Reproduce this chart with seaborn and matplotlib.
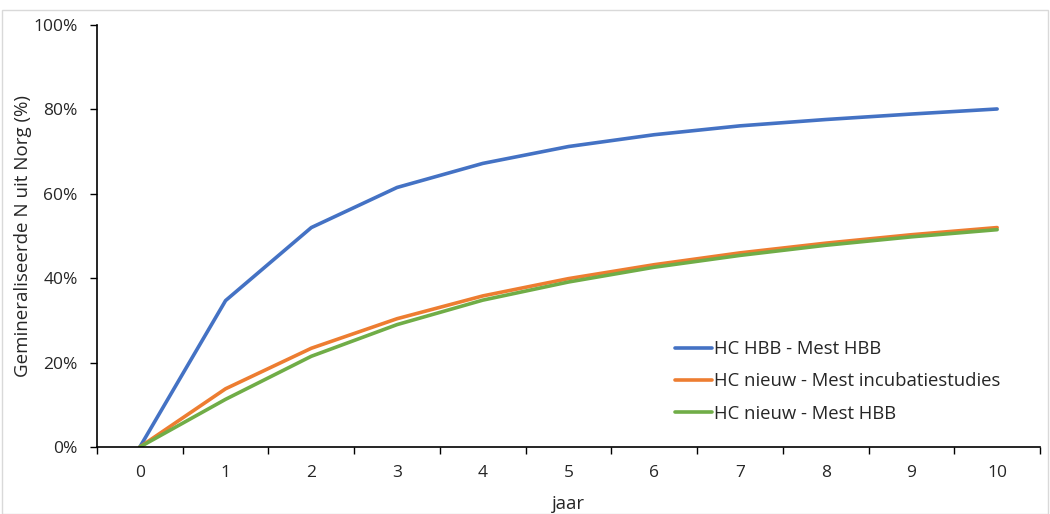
import matplotlib
matplotlib.use("Agg")
import matplotlib.pyplot as plt
from matplotlib.patches import Rectangle
from matplotlib.ticker import FixedLocator, PercentFormatter
import seaborn as sns
import pandas as pd

# Years after application
jaar = [0, 1, 2, 3, 4, 5, 6, 7, 8, 9, 10]

# Cumulative mineralised N from organic N (%)
hc_hbb_mest_hbb = [0.0, 34.7, 52.0, 61.5, 67.2, 71.2, 74.0, 76.1, 77.6, 78.9, 80.1]
hc_nieuw_mest_incubatie = [0.0, 13.8, 23.4, 30.4, 35.8, 39.9, 43.2, 46.0, 48.3, 50.3, 52.0]
hc_nieuw_mest_hbb = [0.0, 11.3, 21.5, 29.0, 34.8, 39.1, 42.6, 45.4, 47.8, 49.8, 51.5]

series_names = [
    "HC HBB - Mest HBB",
    "HC nieuw - Mest incubatiestudies",
    "HC nieuw - Mest HBB",
]
series_values = [hc_hbb_mest_hbb, hc_nieuw_mest_incubatie, hc_nieuw_mest_hbb]
series_colors = ["#4472C4", "#ED7D31", "#70AD47"]

y_ticks = [0, 20, 40, 60, 80, 100]

frames = [
    pd.DataFrame({"jaar": jaar, "waarde": vals, "reeks": name})
    for name, vals in zip(series_names, series_values)
]
df = pd.concat(frames, ignore_index=True)

sns.set_theme(style="white")
plt.rcParams["font.family"] = ["Open Sans", "DejaVu Sans"]

text_color = "#262626"

fig = plt.figure(figsize=(10.5, 5.14), dpi=100)
ax = fig.add_axes([97 / 1050, 1 - 447 / 514, 943 / 1050, 422 / 514])

sns.lineplot(
    data=df, x="jaar", y="waarde", hue="reeks",
    hue_order=series_names, palette=series_colors,
    linewidth=2.6, ax=ax, legend=True,
)

ax.set_xlim(-0.5, 10.5)
ax.set_ylim(0, 100)

# Category axis: tick marks between categories, labels centred on categories
ax.xaxis.set_major_locator(FixedLocator([i - 0.5 for i in range(len(jaar) + 1)]))
ax.set_xticklabels([])
ax.xaxis.set_minor_locator(FixedLocator(jaar))
ax.set_xticklabels([str(j) for j in jaar], minor=True)
ax.tick_params(axis="x", which="major", direction="out", length=5, width=1,
               color="black", bottom=True)
ax.tick_params(axis="x", which="minor", length=0, pad=13, labelsize=12.5,
               labelcolor=text_color)

ax.yaxis.set_major_locator(FixedLocator(y_ticks))
ax.yaxis.set_major_formatter(PercentFormatter(decimals=0))
ax.tick_params(axis="y", direction="out", length=5, width=1, color="black",
               left=True, labelsize=12.5, labelcolor=text_color, pad=9)

for side in ["top", "right"]:
    ax.spines[side].set_visible(False)
for side in ["left", "bottom"]:
    ax.spines[side].set_color("black")
    ax.spines[side].set_linewidth(1.2)

ax.set_xlabel("jaar", fontsize=13.3, color=text_color, labelpad=10)
ax.set_ylabel("Gemineraliseerde N uit Norg (%)", fontsize=13.5,
              color=text_color, labelpad=1)

handles, labels = ax.get_legend_handles_labels()
ax.legend(handles, labels, frameon=False, loc="upper left",
          bbox_to_anchor=(0.595, 0.293), fontsize=13.3,
          handlelength=2.0, handletextpad=0.12, labelspacing=0.78,
          labelcolor=text_color)

# Light chart-area border
fig.patches.append(Rectangle((2 / 1050, 0), 1046 / 1050, 1 - 10 / 514,
                             transform=fig.transFigure, fill=False,
                             edgecolor="#D9D9D9", linewidth=1.0))

fig.savefig("out.png", dpi=100)
